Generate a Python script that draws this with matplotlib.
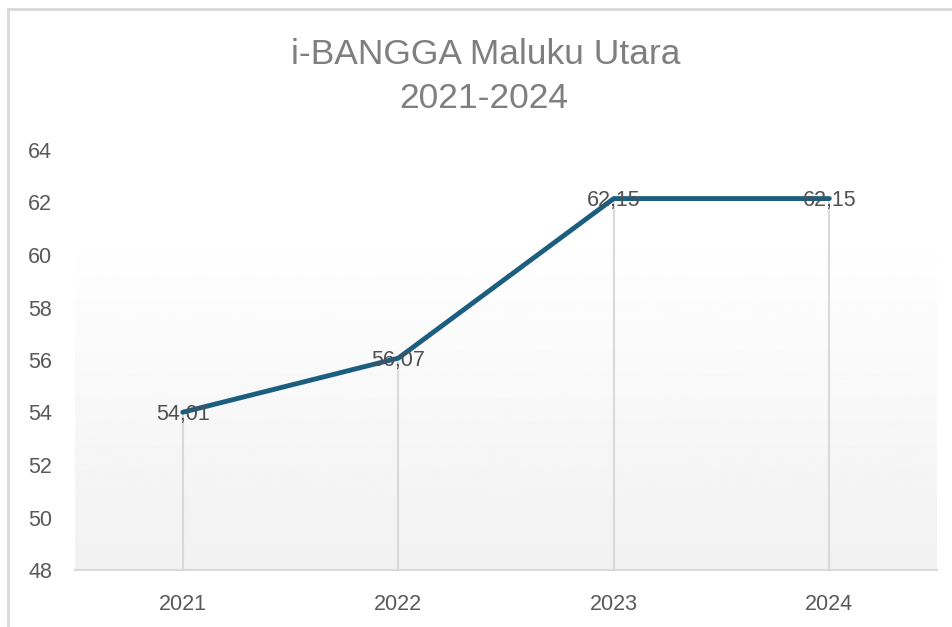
import matplotlib.pyplot as plt
import numpy as np
from matplotlib.lines import Line2D

years = ["2021", "2022", "2023", "2024"]
values = [54.01, 56.07, 62.15, 62.15]
labels = ["54,01", "56,07", "62,15", "62,15"]
yticks = [48, 50, 52, 54, 56, 58, 60, 62, 64]

plt.rcParams['font.family'] = ['Liberation Sans', 'DejaVu Sans']

fig = plt.figure(figsize=(9.53, 6.27), dpi=100)
ax = fig.add_axes([75/953, 57/627, 862/953, 420/627])

x = np.arange(len(years))

# gradient plot area fill
grad = np.linspace(0.945, 1.0, 256).reshape(-1, 1)
ax.imshow(grad, cmap="gray", vmin=0, vmax=1, aspect="auto",
          extent=(0, 1, 0, 0.814), transform=ax.transAxes, origin="lower", zorder=0)

# drop lines
ax.vlines(x, 48, values, color="#d9d9d9", lw=1.5, zorder=1)

ax.plot(x, values, color="#1b5e80", lw=3.5, solid_capstyle="round", zorder=2)

for xi, v, lab in zip(x, values, labels):
    ax.text(xi, v - 0.08, lab, ha="center", va="center", fontsize=15.5, color="#505050", zorder=3)

ax.set_xlim(-0.5, 3.5)
ax.set_ylim(48, 64)
ax.set_xticks(x)
ax.set_xticklabels(years, fontsize=15.5, color="#595959")
ax.set_yticks(yticks)
ax.set_yticklabels([str(t) for t in yticks], fontsize=15.5, color="#595959")
ax.tick_params(axis="both", length=0)
ax.tick_params(axis="x", pad=17)
ax.tick_params(axis="y", pad=16.5)
for s in ["top", "right", "left"]:
    ax.spines[s].set_visible(False)
ax.spines["bottom"].set_color("#d9d9d9")
ax.spines["bottom"].set_linewidth(1.5)
ax.set_facecolor("white")

fig.text(486/953, 1 - 54/627, "i-BANGGA Maluku Utara", ha="center", va="center",
         fontsize=25.5, color="#7f7f7f")
fig.text(484/953, 1 - 98/627, "2021-2024", ha="center", va="center",
         fontsize=25.5, color="#7f7f7f")

# chart border (top and left visible)
fig.add_artist(Line2D([8/953, 1], [1 - 9/627, 1 - 9/627], color="#d9d9d9", lw=2, transform=fig.transFigure))
fig.add_artist(Line2D([8/953, 8/953], [0, 1 - 9/627], color="#d9d9d9", lw=2, transform=fig.transFigure))

fig.savefig("out.png", dpi=100)
